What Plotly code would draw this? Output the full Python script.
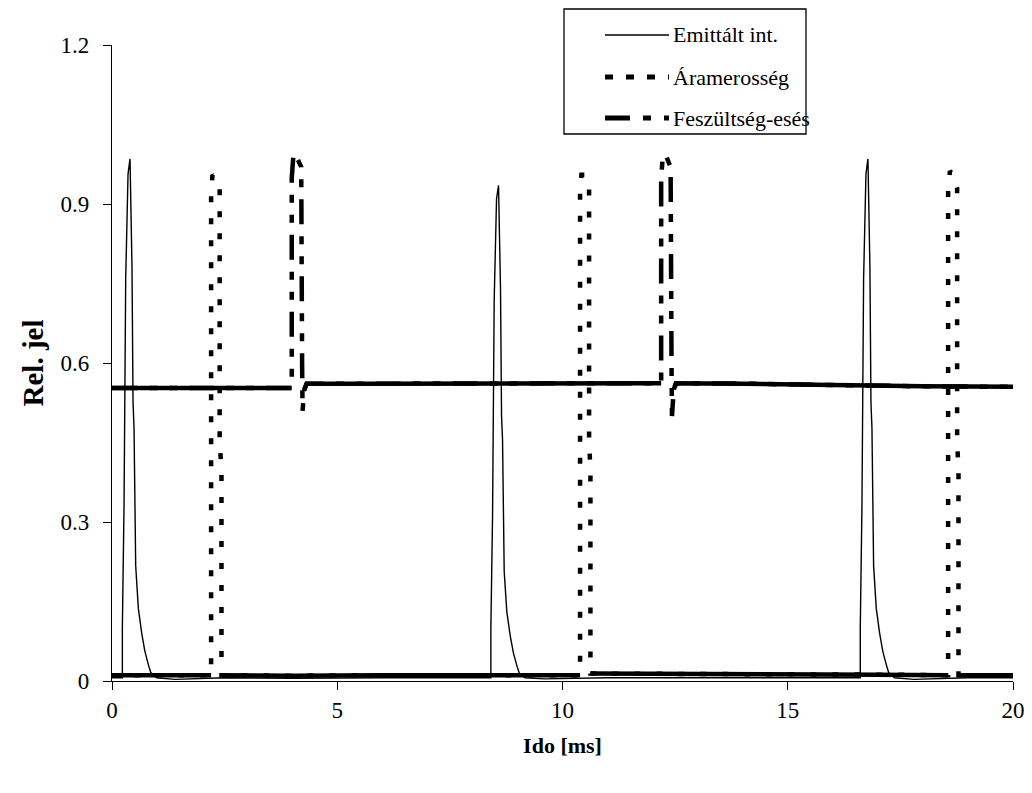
import plotly.graph_objects as go

# ---------------- data ----------------
series_names = ["Emittált int.", "Áramerosség", "Feszültség-esés"]

# Emitted intensity (thin solid line)
t_emit = [0.0, 0.1, 0.23, 0.23, 0.267, 0.304, 0.356, 0.40, 0.444, 0.467, 0.489, 0.526, 0.585,
          0.66, 0.73, 0.81, 0.86, 0.99, 1.4, 2.5, 4.0, 6.0, 7.5, 8.41,
          8.41, 8.447, 8.484, 8.536, 8.58, 8.624, 8.647, 8.669, 8.706, 8.765, 8.84, 8.91,
          8.99, 9.04, 9.17, 9.6, 11.0, 13.0, 15.0, 16.61,
          16.61, 16.647, 16.684, 16.736, 16.78, 16.824, 16.847, 16.869, 16.906, 16.965,
          17.04, 17.11, 17.19, 17.24, 17.37, 17.8, 19.0, 20.0]
v_emit = [0.006, 0.006, 0.006, 0.10, 0.33, 0.76, 0.957, 0.985, 0.78, 0.525, 0.478, 0.217, 0.137,
          0.09, 0.056, 0.03, 0.016, 0.006, 0.003, 0.006, 0.005, 0.006, 0.006, 0.006,
          0.10, 0.31, 0.72, 0.91, 0.935, 0.74, 0.50, 0.455, 0.206, 0.13, 0.085, 0.053,
          0.028, 0.015, 0.006, 0.004, 0.006, 0.006, 0.006, 0.006,
          0.10, 0.33, 0.76, 0.957, 0.985, 0.78, 0.525, 0.478, 0.217, 0.137,
          0.09, 0.056, 0.03, 0.016, 0.006, 0.003, 0.006, 0.006]

# Current (thick dotted line)
t_curr = [0.0, 1.2, 2.2, 2.2, 2.23, 2.30, 2.39, 2.39, 2.43, 2.43, 4.0, 6.0, 8.0, 10.39,
          10.39, 10.42, 10.50, 10.59, 10.59, 10.62, 10.62, 12.5, 15.0, 17.0, 18.56,
          18.56, 18.60, 18.68, 18.76, 18.76, 18.79, 18.79, 20.0]
v_curr = [0.011, 0.011, 0.011, 0.92, 0.955, 0.95, 0.93, 0.45, 0.40, 0.011, 0.010, 0.011, 0.011, 0.011,
          0.93, 0.955, 0.955, 0.93, 0.45, 0.40, 0.014, 0.014, 0.013, 0.012, 0.011,
          0.93, 0.962, 0.955, 0.93, 0.45, 0.40, 0.011, 0.011]

# Voltage drop (thick dash-dot-dot line)
t_volt = [0.0, 2.0, 3.99, 3.99, 4.03, 4.09, 4.20, 4.22, 4.23, 4.27, 4.32, 6.0, 8.0, 10.0, 12.19,
          12.19, 12.23, 12.30, 12.40, 12.42, 12.43, 12.47, 12.52, 14.0, 16.0, 18.0, 20.0]
v_volt = [0.553, 0.553, 0.553, 0.95, 0.995, 0.99, 0.97, 0.60, 0.51, 0.55, 0.561, 0.561, 0.562, 0.562, 0.562,
          0.95, 0.993, 0.99, 0.97, 0.60, 0.50, 0.55, 0.562, 0.561, 0.558, 0.556, 0.555]

x_ticks = [0, 5, 10, 15, 20]
y_ticks = [0, 0.3, 0.6, 0.9, 1.2]
y_tick_text = ["0", "0.3", "0.6", "0.9", "1.2"]

# ---------------- styling ----------------
FONT = "Liberation Serif, Times New Roman, serif"
DOT = "6px,16px"
DASH_DOT_DOT = "25px,12px,8px,12px,8px,12px"

def baseline_only(vals, level_lo, level_hi):
    return [v if level_lo <= v <= level_hi else None for v in vals]

fig = go.Figure()

fig.add_trace(go.Scatter(x=t_emit, y=v_emit, mode="lines", name=series_names[0],
                         line=dict(color="black", width=1.4), showlegend=False))
# current: dotted pulses, flat baseline drawn solid as in the original
fig.add_trace(go.Scatter(x=t_curr, y=v_curr, mode="lines", name=series_names[1],
                         line=dict(color="black", width=4.5, dash=DOT), showlegend=False))
fig.add_trace(go.Scatter(x=t_curr, y=baseline_only(v_curr, 0.0, 0.03), mode="lines",
                         line=dict(color="black", width=4.5), showlegend=False, hoverinfo="skip"))
# voltage
fig.add_trace(go.Scatter(x=t_volt, y=v_volt, mode="lines", name=series_names[2],
                         line=dict(color="black", width=4.5, dash=DASH_DOT_DOT), showlegend=False))
fig.add_trace(go.Scatter(x=t_volt, y=baseline_only(v_volt, 0.53, 0.58), mode="lines",
                         line=dict(color="black", width=4.5), showlegend=False, hoverinfo="skip"))

# ---------------- manual legend (page pixel layout -> paper coords) ----------------
L, R, T, B = 112, 1013, 45, 681      # plot area in page pixels
OFF = 8                               # default page body margin
def px(x):
    return (x - L) / (R - L)
def py(y):
    return (B - y) / (B - T)

shapes = [dict(type="rect", xref="paper", yref="paper", x0=px(564), x1=px(806), y0=py(134), y1=py(9),
               line=dict(color="black", width=1.3), fillcolor="white", layer="above")]
rows = [35, 77, 118]
styles = [dict(color="black", width=1.4), dict(color="black", width=5, dash="8px,13px"),
          dict(color="black", width=5, dash="25px,13px,8px,13px,8px,13px")]
annotations = []
for name, yy, st in zip(series_names, rows, styles):
    shapes.append(dict(type="line", xref="paper", yref="paper", x0=px(605), x1=px(669),
                       y0=py(yy), y1=py(yy), line=st, layer="above"))
    annotations.append(dict(text=name, xref="paper", yref="paper", x=px(671), y=py(yy),
                            xanchor="left", yanchor="middle", showarrow=False,
                            font=dict(family=FONT, size=22, color="black")))

W, H = 1032 - OFF, 793 - OFF
fig.update_layout(
    width=W, height=H,
    margin=dict(l=L - OFF, r=W - (R - OFF), t=T - OFF, b=H - (B - OFF), autoexpand=False),
    paper_bgcolor="white", plot_bgcolor="white",
    font=dict(family=FONT, size=22, color="black"),
    shapes=shapes, annotations=annotations,
    xaxis=dict(range=[0, 20], tickvals=x_ticks, showline=True, linecolor="black", linewidth=1.3,
               ticks="outside", ticklen=8, tickcolor="black", tickwidth=1.2, showgrid=False,
               zeroline=False, tickfont=dict(family=FONT, size=23), automargin=False,
               title=dict(text="<b>Ido [ms]</b>", font=dict(family=FONT, size=22), standoff=15)),
    yaxis=dict(range=[0, 1.2], tickvals=y_ticks, ticktext=y_tick_text, showline=True,
               linecolor="black", linewidth=1.3, ticks="outside", ticklen=8, tickcolor="black",
               tickwidth=1.2, showgrid=False, zeroline=False, tickfont=dict(family=FONT, size=23),
               ticklabelstandoff=9, automargin=False,
               title=dict(text="<b>Rel. jel</b>", font=dict(family=FONT, size=29), standoff=8)),
)

fig.write_html("out.html")
